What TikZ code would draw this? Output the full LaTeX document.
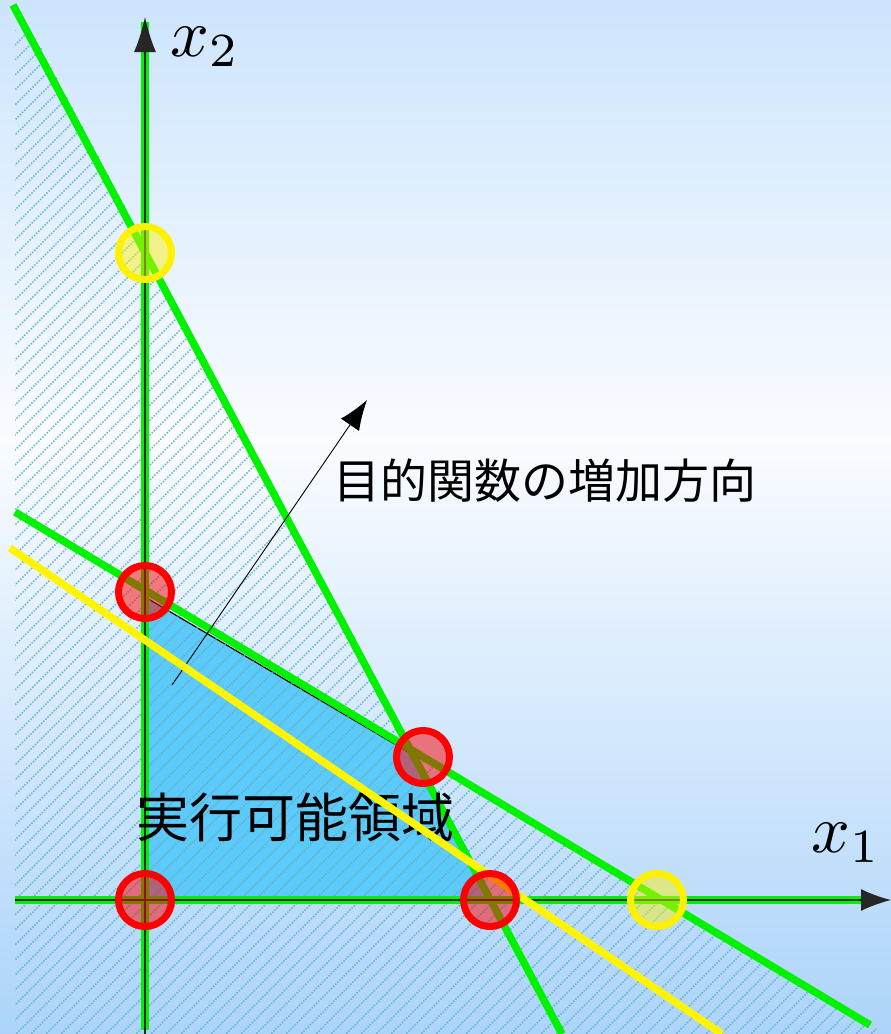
\documentclass[tikz,border=0pt]{standalone}
\usepackage{fontspec}
\newfontfamily\cjk{Noto Sans CJK JP}
\usetikzlibrary{arrows.meta}
\definecolor{bgtop}{RGB}{205,229,253}
\definecolor{bgmid}{RGB}{250,252,255}
\definecolor{bgbot}{RGB}{172,212,250}
\definecolor{lpgreen}{RGB}{0,242,0}
\definecolor{feas}{RGB}{92,202,250}
\definecolor{hatchc}{RGB}{95,178,195}
\definecolor{objyellow}{RGB}{255,245,0}
\tikzset{
  cons/.style={draw=lpgreen, line width=7.5pt},
  axisline/.style={draw=black!85, line width=1.3pt},
  hatchline/.style={draw=hatchc, line width=1.6pt, dash pattern=on 1.6pt off 1.4pt},
  vertexred/.style={circle, draw=red, line width=7pt, fill=red, fill opacity=0.5, draw opacity=1, minimum size=53pt, inner sep=0pt},
  vertexyellow/.style={circle, draw=yellow, line width=7pt, fill=yellow, fill opacity=0.45, draw opacity=1, minimum size=53pt, inner sep=0pt},
}
\begin{document}
\begin{tikzpicture}[x=1pt,y=-1pt]
\useasboundingbox (0,0) rectangle (891,1034);
% background
\shade[top color=bgtop, bottom color=bgmid] (0,0) rectangle (891,440);
\shade[top color=bgmid, bottom color=bgbot] (0,440) rectangle (891,1034);
% key points
\coordinate (O) at (145,900);
\coordinate (P1) at (145,597);
\coordinate (P2) at (415,756);
\coordinate (P3) at (488,898);
\coordinate (I) at (412,750);
% feasible region
\filldraw[fill=feas, draw=black, line width=1.2pt] (145,898) -- (P1) -- (P2) -- (P3) -- cycle;
% hatching
\begin{scope}
  \clip (15,30) -- (15,1034) -- (885,1034) -- (I) -- (32,30) -- cycle;
  \foreach \i in {-1100,-1085,...,900} {
    \draw[hatchline, opacity=0.85] (\i,1040) -- ++(1110,-1110);
  }
\end{scope}
% constraint lines
\coordinate (Atop) at (13,5);
\coordinate (Abot) at (562,1034);
\coordinate (Bl) at (15,512);
\coordinate (Br) at (870,1025);
\draw[cons] (Atop) -- (Abot);
\draw[cons] (Bl) -- (Br);
\coordinate (gx0) at (15,900);
\coordinate (gx1) at (872,900);
\coordinate (gy0) at (145,1030);
\coordinate (gy1) at (145,22);
\draw[cons] (gx0) -- (gx1);
\draw[cons] (gy0) -- (gy1);
% axes
\coordinate (xa0) at (15,900);
\coordinate (xa1) at (891,900);
\coordinate (ya0) at (145,1034);
\coordinate (ya1) at (145,17);
\draw[axisline, -{Latex[length=30pt,width=22pt]}] (xa0) -- (xa1);
\draw[axisline, -{Latex[length=35pt,width=22pt]}] (ya0) -- (ya1);
\node[scale=6.8] (lx1) at (846,843) {$x_1$};
\node[scale=6.8] (lx2) at (205,47) {$x_2$};
% objective direction
\coordinate (oa) at (172,685);
\coordinate (ob) at (367,400);
\draw[black, line width=0.9pt, -{Latex[length=30pt,width=22pt]}] (oa) -- (ob);
\node (goal) at (545,481) {\cjk\fontsize{47}{50}\selectfont 目的関数の増加方向};
\node (feasible) at (295,817) {\cjk\fontsize{53}{56}\selectfont 実行可能領域};
% objective line
\coordinate (Yl) at (10,548);
\coordinate (Yr) at (722,1034);
\draw[draw=objyellow, line width=7.5pt] (Yl) -- (Yr);
% vertices
\node[vertexred] (v0) at (O) {};
\node[vertexred] (v1) at (145,592) {};
\node[vertexred] (v2) at (423,757) {};
\node[vertexred] (v3) at (490,900) {};
\node[vertexyellow] (y1) at (145,253) {};
\node[vertexyellow] (y2) at (657,900) {};
\end{tikzpicture}
\end{document}
